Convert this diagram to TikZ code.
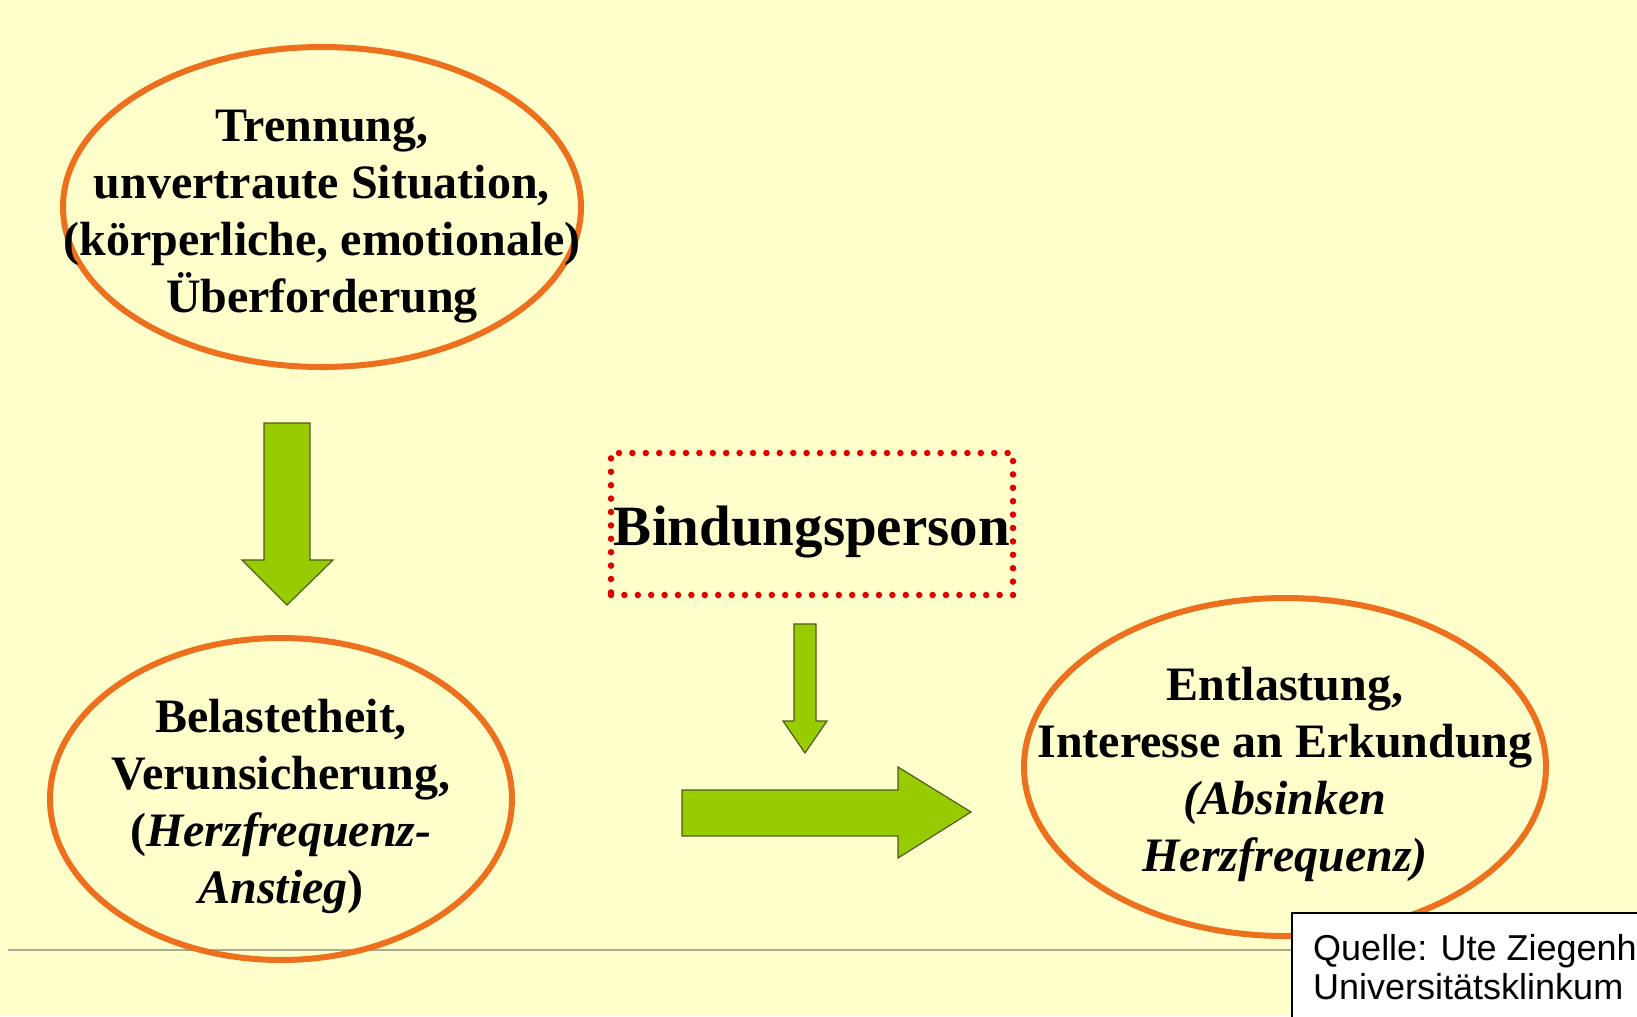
\documentclass[tikz,border=0pt]{standalone}
\usepackage{fontspec}
\setmainfont{Liberation Serif}
\newfontfamily\arialfont{Liberation Sans}
\usetikzlibrary{shapes.geometric}

\definecolor{paper}{RGB}{255,255,204}
\definecolor{ovalorange}{RGB}{236,112,30}
\definecolor{arrowgreen}{RGB}{153,204,0}
\definecolor{arrowedge}{RGB}{80,92,30}
\definecolor{dotred}{RGB}{224,0,0}
\definecolor{rulegrey}{RGB}{170,170,145}

\tikzset{
  oval/.style={ellipse, draw=ovalorange, line width=6bp, inner sep=0pt},
  ovaltext/.style={align=center, inner sep=0pt,
    font=\fontsize{48bp}{57bp}\selectfont\bfseries},
  blockarrow/.style={fill=arrowgreen, draw=arrowedge, line width=1.2bp, line join=miter},
  dotbox/.style={draw=dotred, line width=6.5bp, line cap=round,
    dash pattern=on 0bp off 13.4bp, inner sep=0pt},
  srcbox/.style={fill=white, draw=black, line width=2bp},
}

\begin{document}
\begin{tikzpicture}[x=1bp, y=-1bp]
  % page background
  \fill[paper] (0,0) rectangle (1637,1016);
  \useasboundingbox (0,0) rectangle (1637,1016);

  % bottom rule
  \coordinate (ruleL) at (8,950);
  \coordinate (ruleR) at (1300,950);
  \draw[rulegrey, line width=2bp] (ruleL) -- (ruleR);

  % ovals
  \node[oval, minimum width=518bp, minimum height=320bp] (trennung) at (322,207) {};
  \node[ovaltext] at ([yshift=-10bp]trennung.center)
    {Trennung,\\unvertraute Situation,\\(körperliche, emotionale)\\Überforderung};

  \node[oval, minimum width=462bp, minimum height=322bp] (belastet) at (281,799) {};
  \node[ovaltext] at ([yshift=-7bp]belastet.center)
    {Belastetheit,\\Verunsicherung,\\(\textit{Herzfrequenz-}\\\textit{Anstieg})};

  \node[oval, minimum width=522bp, minimum height=338bp] (entlast) at (1285,767) {};
  \node[ovaltext] at ([yshift=-7bp]entlast.center)
    {Entlastung,\\Interesse an Erkundung\\\textit{(Absinken}\\\textit{Herzfrequenz)}};

  % attachment figure box
  \node[dotbox, minimum width=402bp, minimum height=142bp] (bindung) at (812,524) {};
  \node[anchor=base, inner sep=0pt, font=\fontsize{57bp}{66bp}\selectfont\bfseries]
    at (812,545) {Bindungsperson};

  % block arrows
  \draw[blockarrow] (264,423) -- (310,423) -- (310,560) -- (333,560) -- (287,605)
    -- (242,560) -- (264,560) -- cycle;
  \draw[blockarrow] (794,624) -- (816,624) -- (816,721) -- (827,721) -- (805,753)
    -- (783,721) -- (794,721) -- cycle;
  \draw[blockarrow] (682,790) -- (898,790) -- (898,767) -- (971,812) -- (898,858)
    -- (898,836) -- (682,836) -- cycle;

  % source note
  \draw[srcbox] (1292,913) rectangle (1700,1100);
  \node[anchor=base west, inner sep=0pt, align=left,
    font=\arialfont\fontsize{36bp}{39bp}\selectfont] (quelle) at (1313,960)
    {Quelle: Ute Ziegenh};
  \node[anchor=base west, inner sep=0pt, align=left,
    font=\arialfont\fontsize{36bp}{39bp}\selectfont] (klinik) at (1313,999)
    {Universitätsklinkum};
\end{tikzpicture}
\end{document}
